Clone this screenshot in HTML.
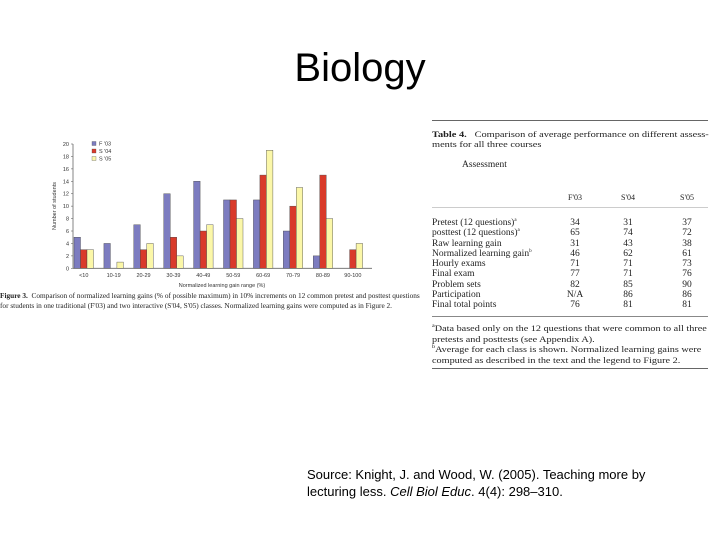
<!DOCTYPE html>
<html><head><meta charset="utf-8"><style>
body{margin:0;width:720px;height:540px;background:#fff;position:relative;overflow:hidden;font-family:"Liberation Sans",sans-serif}
.a{position:absolute;white-space:nowrap}
.s{font-family:"Liberation Serif",serif;color:#222}
sup{font-size:5px;line-height:0}
td{padding:0;height:10.3px}
</style></head><body>
<div class="a" style="left:0;width:720px;text-align:center;top:46px;font-size:40px;color:#000">Biology</div>
<svg class="a" style="left:0;top:0" width="720" height="540" id="chart"></svg>
<div class="a s" style="left:0;top:291px;font-size:7.3px;line-height:10px">
<b>Figure 3.</b>&nbsp; Comparison of normalized learning gains (% of possible maximum) in 10% increments on 12 common pretest and posttest questions<br>for students in one traditional (F'03) and two interactive (S'04, S'05) classes. Normalized learning gains were computed as in Figure 2.</div>
<div class="a" style="left:432px;top:120px;width:276px;height:1px;background:#666"></div>
<div class="a s" style="left:432px;top:129px;font-size:8.5px;line-height:10px;transform:scaleX(1.22);transform-origin:0 0"><b>Table 4.</b>&nbsp;&nbsp; Comparison of average performance on different assess-<br>ments for all three courses</div>
<div class="a s" style="left:462px;top:160px;font-size:9.5px">Assessment</div>
<div class="a" style="left:432px;top:207px;width:276px;height:1px;background:#ccc"></div>
<div class="a s" style="left:432px;top:193px;font-size:9.5px;line-height:10.3px">
<table style="border-collapse:collapse;font-size:9.5px;line-height:10.3px;table-layout:fixed" cellpadding="0">
<tr style="vertical-align:top"><td style="width:125px;height:25px"></td><td style="width:36px;text-align:center;font-size:8px">F'03</td><td style="width:70px;text-align:center;font-size:8px">S'04</td><td style="width:48px;text-align:center;font-size:8px">S'05</td></tr>
<tr><td>Pretest (12 questions)<sup>a</sup></td><td align="center">34</td><td align="center">31</td><td align="center">37</td></tr>
<tr><td>posttest (12 questions)<sup>a</sup></td><td align="center">65</td><td align="center">74</td><td align="center">72</td></tr>
<tr><td>Raw learning gain</td><td align="center">31</td><td align="center">43</td><td align="center">38</td></tr>
<tr><td>Normalized learning gain<sup>b</sup></td><td align="center">46</td><td align="center">62</td><td align="center">61</td></tr>
<tr><td>Hourly exams</td><td align="center">71</td><td align="center">71</td><td align="center">73</td></tr>
<tr><td>Final exam</td><td align="center">77</td><td align="center">71</td><td align="center">76</td></tr>
<tr><td>Problem sets</td><td align="center">82</td><td align="center">85</td><td align="center">90</td></tr>
<tr><td>Participation</td><td align="center">N/A</td><td align="center">86</td><td align="center">86</td></tr>
<tr><td>Final total points</td><td align="center">76</td><td align="center">81</td><td align="center">81</td></tr>
</table></div>
<div class="a" style="left:432px;top:316px;width:276px;height:1px;background:#888"></div>
<div class="a s" style="left:432px;top:324px;font-size:8.3px;line-height:10.5px;transform:scaleX(1.23);transform-origin:0 0"><sup>a</sup>Data based only on the 12 questions that were common to all three<br>pretests and posttests (see Appendix A).<br><sup>b</sup>Average for each class is shown. Normalized learning gains were<br>computed as described in the text and the legend to Figure 2.</div>
<div class="a" style="left:432px;top:368px;width:276px;height:1px;background:#666"></div>
<div class="a" style="left:307px;top:466px;font-size:13px;line-height:17px;color:#000">Source: Knight, J. and Wood, W. (2005). Teaching more by<br>lecturing less. <i>Cell Biol Educ</i>. 4(4): 298–310.</div>
<script>
const categories=["<10","10-19","20-29","30-39","40-49","50-59","60-69","70-79","80-89","90-100"];
const seriesNames=["F '03","S '04","S '05"];
const f03=[5,4,7,12,14,11,11,6,2,0];
const s04=[3,0,3,5,6,11,15,10,15,3];
const s05=[3,1,4,2,7,8,19,13,8,4];
const yTicks=[0,2,4,6,8,10,12,14,16,18,20];
const colors=["#7c7cc0","#d93a2a","#fbf7a8"];
const NS="http://www.w3.org/2000/svg",svg=document.getElementById('chart');
const x0=73,x1=372,y0=268.3,yTop=144,yMax=20;
const y=v=>y0-(v/yMax)*(y0-yTop);
const gw=(x1-x0)/categories.length;
function mk(t,a,p){const e=document.createElementNS(NS,t);for(const k in a)e.setAttribute(k,a[k]);(p||svg).appendChild(e);return e;}
let ax=mk('line',{x1:x0,y1:yTop,x2:x0,y2:y0,stroke:'#666','stroke-width':0.8});


let bx=mk('line',{x1:x0,y1:y0,x2:x1,y2:y0,stroke:'#666','stroke-width':0.8});


yTicks.forEach(t=>{mk('line',{x1:x0-2,x2:x0,y1:y(t),y2:y(t),stroke:'#666','stroke-width':0.6});
 const tx=mk('text',{x:x0-4,y:y(t)+2,'font-size':5.5,'text-anchor':'end',fill:'#333','font-family':'Liberation Sans'});tx.textContent=t;
 
 });
const series=[f03,s04,s05],bw=6.5;
categories.forEach((c,i)=>{const gx=x0+i*gw+1;
 series.forEach((s,j)=>{if(s[i]<=0)return;const r=mk('rect',{x:gx+j*bw,y:y(s[i]),width:bw,height:y0-y(s[i]),fill:colors[j],stroke:'#444','stroke-width':0.4});
  
  });
 const tx=mk('text',{x:gx+bw*1.5,y:277,'font-size':5.5,'text-anchor':'middle',fill:'#333','font-family':'Liberation Sans'});tx.textContent=c;
 
 });
const xt=mk('text',{x:222,y:287,'font-size':5.5,'text-anchor':'middle',fill:'#333','font-family':'Liberation Sans'});xt.textContent='Normalized learning gain range (%)';


const yt=mk('text',{x:0,y:0,'font-size':5.5,'text-anchor':'middle',fill:'#333','font-family':'Liberation Sans',transform:'translate(56,206) rotate(-90)'});yt.textContent='Number of students';


seriesNames.forEach((n,j)=>{const ly=144+j*7.5;
 mk('rect',{x:92,y:ly-2.5,width:4,height:4,fill:colors[j],stroke:'#444','stroke-width':0.3});
 const tx=mk('text',{x:99,y:ly+1.5,'font-size':5.5,fill:'#333','font-family':'Liberation Sans'});tx.textContent=n;
 
 });
</script>
</body></html>
